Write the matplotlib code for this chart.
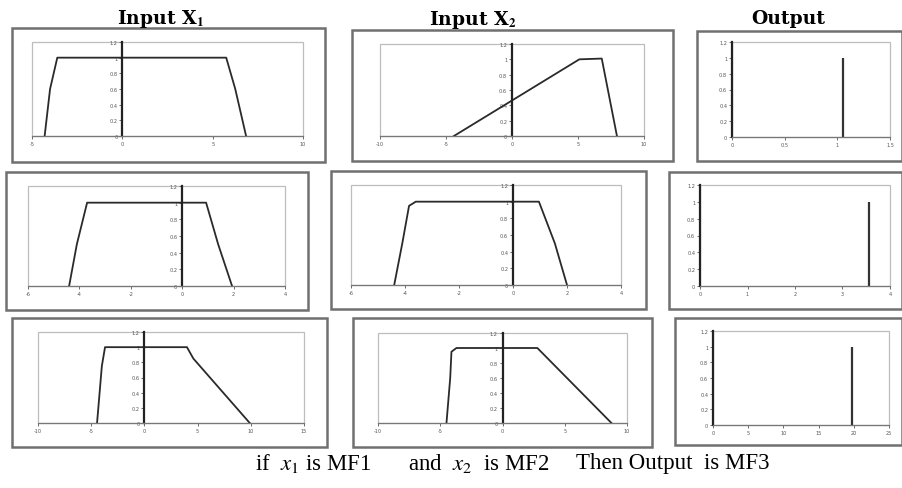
import matplotlib.pyplot as plt
from matplotlib.patches import Rectangle

plt.rcParams['mathtext.fontset'] = 'stix'

W, H = 902, 489

# membership function curves (x, y)
r1_in1_x = [-4.3, -4.0, -3.6, 5.75, 6.25, 6.85]
r1_in1_y = [0, 0.6, 1, 1, 0.6, 0]
r1_in2_x = [-4.4, 5.1, 6.8, 7.95]
r1_in2_y = [0, 1, 1.01, 0]
r2_in1_x = [-4.4, -4.1, -3.7, 0.93, 1.4, 1.94]
r2_in1_y = [0, 0.5, 1, 1, 0.5, 0]
r2_in2_x = [-4.4, -4.1, -3.85, -3.6, 0.96, 1.55, 2.0]
r2_in2_y = [0, 0.5, 0.95, 1, 1, 0.5, 0]
r3_in1_x = [-4.45, -4.0, -3.7, 4.0, 4.6, 9.9]
r3_in1_y = [0, 0.75, 1, 1, 0.85, 0]
r3_in2_x = [-4.5, -4.2, -4.1, -3.7, 2.8, 8.75]
r3_in2_y = [0, 0.6, 0.95, 1, 1, 0]

# output singletons
out_x = [1.05, 3.55, 19.8]
out_h = [1, 1, 1]

# axis ranges / ticks
xlims = [(-5, 10), (-10, 10), (0, 1.5),
         (-6, 4), (-6, 4), (0, 4),
         (-10, 15), (-10, 10), (0, 25)]
xticks = [[-5, 0, 5, 10], [-10, -5, 0, 5, 10], [0, 0.5, 1, 1.5],
          [-6, -4, -2, 0, 2, 4], [-6, -4, -2, 0, 2, 4], [0, 1, 2, 3, 4],
          [-10, -5, 0, 5, 10, 15], [-10, -5, 0, 5, 10], [0, 5, 10, 15, 20, 25]]
yticks = [0, 0.2, 0.4, 0.6, 0.8, 1, 1.2]
ytick_labels = ['0', '0.2', '0.4', '0.6', '0.8', '1', '1.2']

# layout in pixels (left, top, right, bottom)
boxes = [(12, 29, 325, 163), (352, 31, 673, 162), (697, 32, 902, 162),
         (6, 173, 308, 311), (331, 172, 646, 310), (669, 173, 902, 310),
         (12, 319, 327, 448), (353, 319, 652, 448), (675, 319, 902, 446)]
plots = [(32, 43, 303, 137), (380, 45, 644, 137), (732, 43, 890, 138),
         (28, 187, 285, 287), (351, 186, 621, 286), (700, 186, 890, 287),
         (38, 333, 304, 424), (378, 334, 627, 424), (713, 332, 889, 426)]


def frac(l, t, r, b):
    return [l / W, 1 - b / H, (r - l) / W, (b - t) / H]


fig = plt.figure(figsize=(W / 100, H / 100), dpi=100)

for l, t, r, b in boxes:
    f = frac(l, t, r, b)
    fig.add_artist(Rectangle((f[0], f[1]), f[2], f[3], transform=fig.transFigure,
                             fill=False, ec='#707070', lw=1.8))

curves = [(r1_in1_x, r1_in1_y), (r1_in2_x, r1_in2_y), None,
          (r2_in1_x, r2_in1_y), (r2_in2_x, r2_in2_y), None,
          (r3_in1_x, r3_in1_y), (r3_in2_x, r3_in2_y), None]

for i in range(9):
    ax = fig.add_axes(frac(*plots[i]))
    ax.set_xlim(*xlims[i])
    ax.set_ylim(0, 1.2)
    ax.add_patch(Rectangle((0, 0), 1, 1, transform=ax.transAxes, fill=False,
                           ec='#bdbdbd', lw=0.9, clip_on=False, zorder=0))
    for s in ['top', 'right']:
        ax.spines[s].set_visible(False)
    ax.spines['bottom'].set_color('#777777')
    ax.spines['bottom'].set_linewidth(0.9)
    ax.spines['left'].set_position(('data', 0))
    ax.spines['left'].set_color('#222222')
    ax.spines['left'].set_linewidth(1.6)
    ax.set_xticks(xticks[i])
    ax.set_xticklabels([('%g' % v) for v in xticks[i]])
    ax.set_yticks(yticks)
    ax.set_yticklabels(ytick_labels)
    ax.tick_params(length=2, width=0.6, labelsize=3.6, colors='#555555', pad=1.5)
    if curves[i] is not None:
        ax.plot(curves[i][0], curves[i][1], color='#2a2a2a', lw=1.3)
    else:
        k = i // 3
        ax.vlines(out_x[k], 0, out_h[k], color='#333333', lw=1.6)

title_font = ['DejaVu Serif']
fig.text(161 / W, 1 - 19 / H, 'Input X$_\\mathbf{1}$', ha='center', va='center',
         fontsize=13.5, fontweight='bold', family=title_font)
fig.text(473 / W, 1 - 20 / H, 'Input X$_\\mathbf{2}$', ha='center', va='center',
         fontsize=13.5, fontweight='bold', family=title_font)
fig.text(788 / W, 1 - 19 / H, 'Output', ha='center', va='center',
         fontsize=13.5, fontweight='bold', family=title_font)

cap_font = ['Liberation Serif', 'DejaVu Serif']
fig.text(255 / W, 1 - 464 / H, 'if  $x_1$ is MF1', ha='left', va='center',
         fontsize=16.5, family=cap_font)
fig.text(408 / W, 1 - 464 / H, 'and  $x_2$  is MF2', ha='left', va='center',
         fontsize=16.5, family=cap_font)
fig.text(770 / W, 1 - 464 / H, 'Then Output  is MF3', ha='right', va='center',
         fontsize=16.5, family=cap_font)

fig.savefig('out.png', dpi=100)
